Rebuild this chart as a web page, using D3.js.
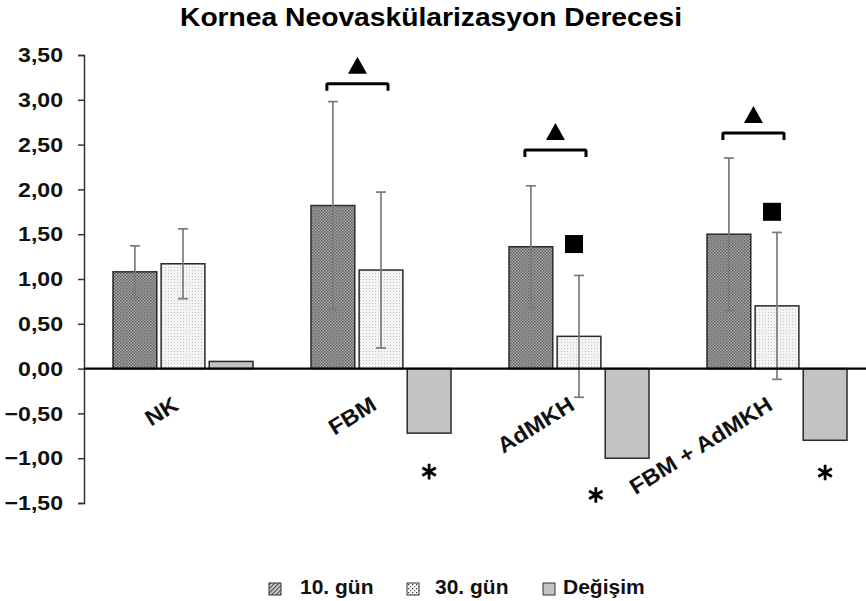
<!DOCTYPE html>
<html>
<head>
<meta charset="utf-8">
<script src="https://cdn.jsdelivr.net/npm/d3@7"></script>
<style>
  html, body { margin: 0; padding: 0; background: #fff; }
  svg { display: block; font-family: "Liberation Sans", Arial, sans-serif; }
</style>
</head>
<body>
<svg id="chart" width="866" height="601"></svg>
<script>
// ---- data ----
const title = "Kornea Neovaskülarizasyon Derecesi";
const categories = ["NK", "FBM", "AdMKH", "FBM + AdMKH"];
const seriesNames = ["10. gün", "30. gün", "Değişim"];
const day10 = [1.08, 1.82, 1.36, 1.50];
const day10Err = [0.29, 1.16, 0.68, 0.85];
const day30 = [1.17, 1.10, 0.36, 0.70];
const day30Err = [0.39, 0.87, 0.68, 0.82];
const change = [0.08, -0.72, -1.00, -0.80];
const yTicks = [3.5, 3.0, 2.5, 2.0, 1.5, 1.0, 0.5, 0.0, -0.5, -1.0, -1.5];
// significance marks (value level in data units)
const bracketGroups = ["FBM", "AdMKH", "FBM + AdMKH"];
const bracketLevels = [3.18, 2.44, 2.63];
const squareGroups = ["AdMKH", "FBM + AdMKH"];
const squareLevels = [1.39, 1.75];
const starGroups = ["FBM", "AdMKH", "FBM + AdMKH"];
const starLevels = [-1.15, -1.41, -1.16];
const starBarPos = [2, 1.35, 2];

// ---- layout ----
const svg = d3.select("#chart");
const mLeft = 84, mRight = 876, mTop = 55, mBottom = 503;

const x = d3.scaleBand().domain(categories).range([mLeft, mRight]);
const xi = d3.scaleBand().domain(seriesNames).range([-70, 70]).paddingInner(0.09);
const y = d3.scaleLinear().domain([-1.5, 3.5]).range([mBottom, mTop]);

const bw = xi.bandwidth();
const barCenter = (cat, idx) => x(cat) + x.bandwidth() / 2 + xi(seriesNames[0]) + idx * xi.step() + bw / 2;

// ---- patterns ----
const defs = svg.append("defs");
const p1 = defs.append("pattern").attr("id", "pDark").attr("patternUnits", "userSpaceOnUse")
  .attr("width", 3).attr("height", 3);
p1.append("rect").attr("width", 3).attr("height", 3).attr("fill", "#a9a9a9");
p1.append("rect").attr("width", 1.5).attr("height", 1.5).attr("fill", "#5e5e5e");
p1.append("rect").attr("x", 1.5).attr("y", 1.5).attr("width", 1.5).attr("height", 1.5).attr("fill", "#6a6a6a");

const p2 = defs.append("pattern").attr("id", "pLight").attr("patternUnits", "userSpaceOnUse")
  .attr("width", 3).attr("height", 3);
p2.append("rect").attr("width", 3).attr("height", 3).attr("fill", "#f3f3f3");
p2.append("rect").attr("width", 1).attr("height", 1).attr("fill", "#c6c6c6");

const p3 = defs.append("pattern").attr("id", "pHatch").attr("patternUnits", "userSpaceOnUse")
  .attr("width", 3).attr("height", 3).attr("patternTransform", "rotate(45)");
p3.append("rect").attr("width", 3).attr("height", 3).attr("fill", "#e0e0e0");
p3.append("rect").attr("width", 1.4).attr("height", 3).attr("fill", "#555");

const p4 = defs.append("pattern").attr("id", "pDots").attr("patternUnits", "userSpaceOnUse")
  .attr("width", 4).attr("height", 4);
p4.append("rect").attr("width", 4).attr("height", 4).attr("fill", "#fafafa");
p4.append("rect").attr("width", 1.3).attr("height", 1.3).attr("fill", "#444");
p4.append("rect").attr("x", 2).attr("y", 2).attr("width", 1.3).attr("height", 1.3).attr("fill", "#777");

const fills = ["url(#pDark)", "url(#pLight)", "#c3c3c3"];
const legendFills = ["url(#pHatch)", "url(#pDots)", "#c3c3c3"];

// ---- title ----
svg.append("text").attr("x", 431).attr("y", 26).attr("text-anchor", "middle")
  .attr("font-size", 26).attr("font-weight", "bold").attr("fill", "#000")
  .attr("textLength", 502).attr("lengthAdjust", "spacingAndGlyphs").text(title);

// ---- y axis ----
const yAxis = d3.axisLeft(y).tickValues(yTicks).tickSize(6).tickPadding(21)
  .tickFormat(d => d3.format(".2f")(d).replace(".", ","));
const ga = svg.append("g").attr("transform", `translate(${mLeft},0)`).call(yAxis);
ga.select(".domain").attr("stroke", "#333").attr("stroke-width", 1.5);
ga.selectAll(".tick line").attr("stroke", "#333").attr("stroke-width", 1.5);
ga.selectAll(".tick text").attr("font-size", 21).attr("font-weight", "bold")
  .attr("fill", "#111").attr("font-family", "'Liberation Sans', Arial, sans-serif")
  .attr("x", 0).attr("transform", "translate(-21,0) scale(1.1,1)");

// ---- bars ----
const seriesVals = [day10, day30, change];
const seriesErr = [day10Err, day30Err, null];
const barsG = svg.append("g");
seriesVals.forEach((vals, si) => {
  barsG.selectAll(null).data(categories).enter().append("rect")
    .attr("x", c => x(c) + x.bandwidth() / 2 + xi(seriesNames[si]))
    .attr("width", bw)
    .attr("y", (c, i) => y(Math.max(0, vals[i])))
    .attr("height", (c, i) => Math.abs(y(vals[i]) - y(0)))
    .attr("fill", fills[si])
    .attr("stroke", "#2a2a2a").attr("stroke-width", 1.5);
});

// ---- error bars ----
const errG = svg.append("g").attr("stroke", "#7a7a7a").attr("stroke-width", 1.7);
[0, 1].forEach(si => {
  categories.forEach((c, i) => {
    const cx = barCenter(c, si);
    const v = seriesVals[si][i], e = seriesErr[si][i];
    errG.append("line").attr("x1", cx).attr("x2", cx).attr("y1", y(v + e)).attr("y2", y(v - e));
    errG.append("line").attr("x1", cx - 5).attr("x2", cx + 5).attr("y1", y(v + e)).attr("y2", y(v + e));
    errG.append("line").attr("x1", cx - 5).attr("x2", cx + 5).attr("y1", y(v - e)).attr("y2", y(v - e));
  });
});

// ---- zero line ----
svg.append("line").attr("x1", mLeft).attr("x2", 866).attr("y1", y(0)).attr("y2", y(0))
  .attr("stroke", "#000").attr("stroke-width", 2.2);

// ---- category labels ----
svg.append("g").selectAll("text").data(categories).enter().append("text")
  .attr("transform", c => `translate(${x(c) + x.bandwidth() / 2 - 3},${y(0) + 40}) rotate(-32) scale(1.08,1)`)
  .attr("text-anchor", "end").attr("font-size", 22).attr("font-weight", "bold").attr("fill", "#111")
  .text(c => c);

// ---- brackets & triangles ----
const markG = svg.append("g");
bracketGroups.forEach((g, i) => {
  const x1 = barCenter(g, 0) - 6, x2 = barCenter(g, 1) + 7, yy = y(bracketLevels[i]);
  markG.append("path")
    .attr("d", `M${x1},${yy + 7} L${x1},${yy + 1} Q${x1},${yy} ${x1 + 1},${yy} L${x2 - 1},${yy} Q${x2},${yy} ${x2},${yy + 1} L${x2},${yy + 7}`)
    .attr("fill", "none").attr("stroke", "#000").attr("stroke-width", 3);
  const tx = (x1 + x2) / 2, ty = yy - 10;
  markG.append("path").attr("d", `M${tx - 9.5},${ty} L${tx + 9.5},${ty} L${tx},${ty - 17} Z`).attr("fill", "#000");
});

// ---- squares ----
squareGroups.forEach((g, i) => {
  const cx = barCenter(g, 1) - 5, cy = y(squareLevels[i]);
  markG.append("rect").attr("x", cx - 9).attr("y", cy - 9).attr("width", 18).attr("height", 18).attr("fill", "#000");
});

// ---- asterisks ----
const star = d3.symbol().type(d3.symbolAsterisk).size(170);
starGroups.forEach((g, i) => {
  const p = starBarPos[i];
  const cx = barCenter(g, 0) + p * xi.step();
  markG.append("path").attr("d", star()).attr("transform", `translate(${cx},${y(starLevels[i])})`)
    .attr("fill", "none").attr("stroke", "#000").attr("stroke-width", 2.8);
});

// ---- legend ----
const legendIconX = [269, 407, 543];
const legendTextX = [300, 435, 563];
const lg = svg.append("g");
seriesNames.forEach((s, i) => {
  lg.append("rect").attr("x", legendIconX[i]).attr("y", 583).attr("width", 12).attr("height", 12)
    .attr("fill", legendFills[i]).attr("stroke", "#333").attr("stroke-width", 1);
  lg.append("text").attr("x", legendTextX[i]).attr("y", 594).attr("font-size", 21)
    .attr("font-weight", "bold").attr("fill", "#111").text(s);
});
</script>
</body>
</html>
